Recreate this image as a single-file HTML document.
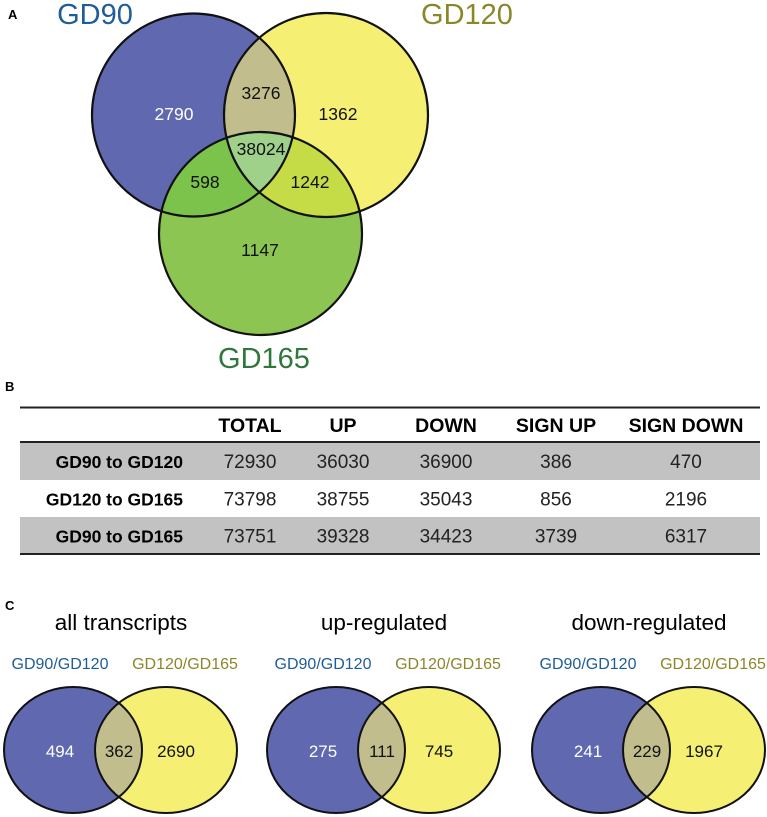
<!DOCTYPE html>
<html><head><meta charset="utf-8">
<style>
html,body{margin:0;padding:0;background:#fff;}
svg{display:block;font-family:"Liberation Sans",Arial,sans-serif;}
</style></head>
<body>
<svg id="fig" width="767" height="817" viewBox="0 0 767 817" xmlns="http://www.w3.org/2000/svg"></svg>
<script>
// Panel A data
const vennALabels = ["GD90","GD120","GD165"];
const vennARegions = ["only-gd90","gd90-gd120","only-gd120","all-three","gd90-gd165","gd120-gd165","only-gd165"];
const vennAValues = [2790,3276,1362,38024,598,1242,1147];
// Panel B data
const tableCols = ["TOTAL","UP","DOWN","SIGN UP","SIGN DOWN"];
const tableRows = ["GD90 to GD120","GD120 to GD165","GD90 to GD165"];
const tableTotal = [72930,73798,73751];
const tableUp = [36030,38755,39328];
const tableDown = [36900,35043,34423];
const tableSignUp = [386,856,3739];
const tableSignDown = [470,2196,6317];
// Panel C data
const vennCTitles = ["all transcripts","up-regulated","down-regulated"];
const vennCLeftOnly = [494,275,241];
const vennCShared = [362,111,229];
const vennCRightOnly = [2690,745,1967];

const NS="http://www.w3.org/2000/svg";
const svg=document.getElementById('fig');
function mk(tag,attrs,parent,text){const e=document.createElementNS(NS,tag);for(const k in attrs)e.setAttribute(k,attrs[k]);if(text!==undefined)e.textContent=text;(parent||svg).appendChild(e);return e;}

let t;
t=mk('text',{x:8,y:19,'font-size':13,'font-weight':'bold'},svg,'A');

t=mk('text',{x:5,y:391,'font-size':13,'font-weight':'bold'},svg,'B');

t=mk('text',{x:5,y:610,'font-size':13,'font-weight':'bold'},svg,'C');


// ---- Panel A ----
const gA=mk('g',{});

const defs=mk('defs',{});
const circ=[{cx:193.5,cy:115,r:101.5},{cx:326,cy:115,r:102},{cx:260.5,cy:233.5,r:101.5}];
circ.forEach((c,i)=>{const cp=mk('clipPath',{id:'cA'+i},defs);mk('circle',{cx:c.cx,cy:c.cy,r:c.r},cp);});
const fills=["#6068b0","#f5f074","#8cc552"];
circ.forEach((c,i)=>{const e=mk('circle',{cx:c.cx,cy:c.cy,r:c.r,fill:fills[i]},gA);
});
const g01=mk('g',{'clip-path':'url(#cA0)'},gA);mk('circle',{cx:circ[1].cx,cy:circ[1].cy,r:circ[1].r,fill:"#c1bd8d"},g01);
const g02=mk('g',{'clip-path':'url(#cA0)'},gA);mk('circle',{cx:circ[2].cx,cy:circ[2].cy,r:circ[2].r,fill:"#7cc34c"},g02);
const g12=mk('g',{'clip-path':'url(#cA1)'},gA);mk('circle',{cx:circ[2].cx,cy:circ[2].cy,r:circ[2].r,fill:"#c5dc47"},g12);
const g012a=mk('g',{'clip-path':'url(#cA0)'},gA);const g012=mk('g',{'clip-path':'url(#cA1)'},g012a);
mk('circle',{cx:circ[2].cx,cy:circ[2].cy,r:circ[2].r,fill:"#9fd18a"},g012);
circ.forEach((c)=>mk('circle',{cx:c.cx,cy:c.cy,r:c.r,fill:'none',stroke:'#111','stroke-width':2.2},gA));
const regPos=[[174,120],[261,99],[338,120],[261,155],[205,188],[310,188],[260,256]];
vennAValues.forEach((v,i)=>{const e=mk('text',{x:regPos[i][0],y:regPos[i][1],'font-size':17.5,'text-anchor':'middle',fill:i===0?'#fff':'#111'},gA,String(v));
});
const labPos=[[95,24,'#1f5d98'],[467,24,'#8a872b'],[264,368,'#2f773a']];
vennALabels.forEach((l,i)=>{const e=mk('text',{x:labPos[i][0],y:labPos[i][1],'font-size':29,'text-anchor':'middle',fill:labPos[i][2]},gA,l);
});

// ---- Panel B ----
const gB=mk('g',{});

mk('line',{x1:20,y1:407.5,x2:760,y2:407.5,stroke:'#222','stroke-width':2},gB);
const colX=[250,343,446,556,686];
const rowTop=[442,480,517], rowH=[38,37,37];
rowTop.forEach((y,i)=>{if(i!==1){const r=mk('rect',{x:20,y:y,width:740,height:rowH[i],fill:'#c2c2c2'},gB);
}});
mk('line',{x1:20,y1:442,x2:760,y2:442,stroke:'#222','stroke-width':2},gB);
mk('line',{x1:20,y1:554,x2:760,y2:554,stroke:'#222','stroke-width':2},gB);
tableCols.forEach((c,i)=>{const e=mk('text',{x:colX[i],y:432,'font-size':19.5,'font-weight':'bold','text-anchor':'middle'},gB,c);
});
const cols=[tableTotal,tableUp,tableDown,tableSignUp,tableSignDown];
tableRows.forEach((r,i)=>{const y=rowTop[i]+rowH[i]/2+7;
const e=mk('text',{x:183,y:y,'font-size':17.5,'font-weight':'bold','text-anchor':'end'},gB,r);

cols.forEach((arr,j)=>{const v=mk('text',{x:colX[j],y:y,'font-size':19,'text-anchor':'middle',fill:'#222'},gB,String(arr[i]));
});});

// ---- Panel C ----
const offs=[0,263,528];
vennCTitles.forEach((title,k)=>{const ox=offs[k];
const g=mk('g',{transform:'translate('+ox+',0)'});

const tt=mk('text',{x:121,y:630,'font-size':22.5,'text-anchor':'middle'},g,title);

const l1=mk('text',{x:60,y:669,'font-size':16,'text-anchor':'middle',fill:'#1f5d98'},g,'GD90/GD120');

const l2=mk('text',{x:185,y:669,'font-size':16,'text-anchor':'middle',fill:'#8a872b'},g,'GD120/GD165');

const A={cx:73,cy:750,rx:69,ry:63}, B={cx:166,cy:750,rx:71,ry:63};
const cp=mk('clipPath',{id:'cC'+k},defs);mk('ellipse',A,cp);
const e1=mk('ellipse',Object.assign({fill:'#6068b0'},A),g);
const e2=mk('ellipse',Object.assign({fill:'#f5f074'},B),g);
const gc=mk('g',{'clip-path':'url(#cC'+k+')'},g);mk('ellipse',Object.assign({fill:'#c1bd8d'},B),gc);
mk('ellipse',Object.assign({fill:'none',stroke:'#111','stroke-width':2},A),g);
mk('ellipse',Object.assign({fill:'none',stroke:'#111','stroke-width':2},B),g);
const v1=mk('text',{x:60,y:757,'font-size':17,'text-anchor':'middle',fill:'#fff'},g,String(vennCLeftOnly[k]));

const v2=mk('text',{x:119,y:757,'font-size':17,'text-anchor':'middle',fill:'#111'},g,String(vennCShared[k]));

const v3=mk('text',{x:176,y:757,'font-size':17,'text-anchor':'middle',fill:'#111'},g,String(vennCRightOnly[k]));

});
</script>
</body></html>
